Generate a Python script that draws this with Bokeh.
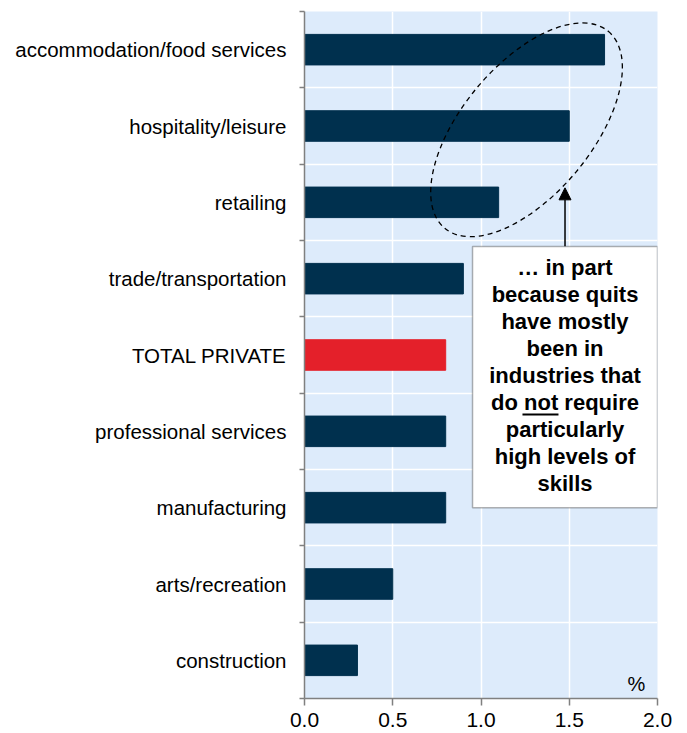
from bokeh.plotting import figure
from bokeh.models import (Range1d, FixedTicker, Label, BoxAnnotation, Arrow,
                          NormalHead, ColumnDataSource)
from bokeh.embed import file_html
from bokeh.resources import INLINE

# ---- data ----
categories = ["accommodation/food services", "hospitality/leisure", "retailing",
              "trade/transportation", "TOTAL PRIVATE", "professional services",
              "manufacturing", "arts/recreation", "construction"]
values = [1.7, 1.5, 1.1, 0.9, 0.8, 0.8, 0.8, 0.5, 0.3]
highlight = "TOTAL PRIVATE"
x_ticks = [0.0, 0.5, 1.0, 1.5, 2.0]
unit_label = "%"
note_lines = ["\u2026 in part", "because quits", "have mostly", "been in",
              "industries that", "do not require", "particularly",
              "high levels of", "skills"]

NAVY = "#00304E"
RED = "#E4202A"
BG = "#DDEBFB"
FONT = "Liberation Sans"

n = len(categories)
ypos = [n - i - 0.5 for i in range(n)]
colors = [RED if c == highlight else NAVY for c in categories]
src = ColumnDataSource(dict(y=ypos, v=values, c=colors, name=categories))

p = figure(frame_width=353, frame_height=687, width=675, height=733,
           min_border_left=304, min_border_right=18, min_border_top=11,
           min_border_bottom=35,
           x_range=Range1d(0, 2), y_range=Range1d(0, n),
           output_backend="svg", toolbar_location=None)
p.background_fill_color = BG
p.border_fill_color = "white"
p.outline_line_color = None

p.hbar(y="y", left=0, right="v", height=0.4, fill_color="c",
       line_color="c", source=src)

# grids
p.xgrid.ticker = FixedTicker(ticks=[0.5, 1.0, 1.5])
p.xgrid.grid_line_color = "white"
p.xgrid.grid_line_width = 1.5
p.ygrid.ticker = FixedTicker(ticks=list(range(1, n)))
p.ygrid.grid_line_color = "white"
p.ygrid.grid_line_width = 1.5

# x axis
xa = p.xaxis[0]
xa.ticker = FixedTicker(ticks=x_ticks)
xa.major_label_overrides = {t: f"{t:.1f}" for t in x_ticks}
xa.axis_line_color = "#808080"
xa.axis_line_width = 1.5
xa.major_tick_line_color = "#808080"
xa.major_tick_line_width = 1.5
xa.major_tick_out = 7
xa.major_tick_in = 0
xa.minor_tick_line_color = None
xa.major_label_standoff = 7
xa.major_label_text_font = FONT
xa.major_label_text_font_size = "21px"
xa.major_label_text_color = "black"

# y axis
ya = p.yaxis[0]
ya.ticker = FixedTicker(ticks=ypos, minor_ticks=list(range(0, n + 1)))
ya.major_label_overrides = {float(y): c for y, c in zip(ypos, categories)}
ya.axis_line_color = "#808080"
ya.axis_line_width = 1.5
ya.major_tick_out = 0
ya.major_tick_in = 0
ya.minor_tick_line_color = "#808080"
ya.minor_tick_line_width = 1.5
ya.minor_tick_out = 5
ya.minor_tick_in = 0
ya.major_label_standoff = 13
ya.major_label_text_font = FONT
ya.major_label_text_font_size = "20.5px"
ya.major_label_text_color = "black"

# unit label
p.add_layout(Label(x=1.881, y=0.04, text=unit_label, text_align="center",
                   text_baseline="bottom", text_font=FONT,
                   text_font_size="20px", text_color="black"))

# dashed ellipse around the top three bars
p.ellipse(x=[1.258], y=[7.45], width=256, height=130, width_units="screen",
          height_units="screen", angle=0.878, fill_color=None,
          line_color="black", line_dash="5 4", line_width=1.3)

# arrow
p.add_layout(Arrow(end=NormalHead(size=12, fill_color="black", line_color="black"),
                   x_start=1.476, y_start=5.92, x_end=1.476, y_end=6.69,
                   line_color="black", line_width=1.5))

# note box
p.add_layout(BoxAnnotation(left=0.952, right=2.0, bottom=2.50, top=5.92,
                           fill_color="white", fill_alpha=1.0,
                           line_color="black", line_width=1.5))
for k, line in enumerate(note_lines):
    py = 267.5 + 26.9 * k
    p.add_layout(Label(x=1.476, y=(698 - py) / 76.33, text=line,
                       text_align="center", text_baseline="middle",
                       text_font=FONT, text_font_style="bold",
                       text_font_size="22px", text_color="black"))
# underline for "not"
p.add_layout(BoxAnnotation(left=1.235, right=1.439, bottom=3.708, top=3.734,
                           fill_color="black", fill_alpha=1.0,
                           line_color=None))

open("out.html", "w").write(file_html(p, INLINE))
